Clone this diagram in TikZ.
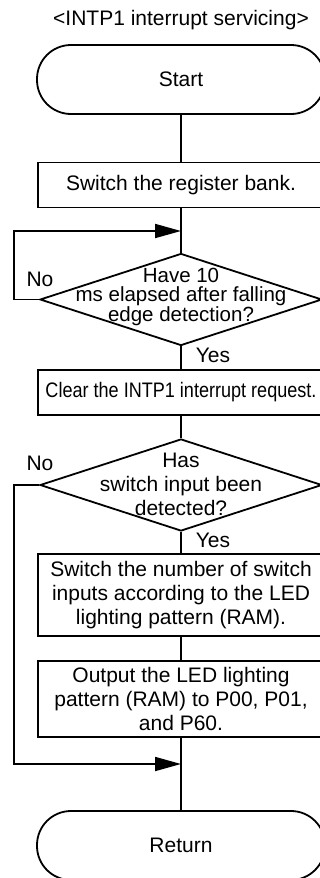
\documentclass[tikz,border=0pt]{standalone}
\usepackage{fontspec}
\setmainfont{Liberation Sans}
\usetikzlibrary{arrows.meta,shapes.geometric}

\begin{document}
\begin{tikzpicture}[x=1pt,y=-1pt,line width=1.8pt,
    font=\fontsize{21}{24}\selectfont,
    terminal/.style={draw,rectangle,rounded corners=34pt,minimum width=288pt,minimum height=69pt,inner sep=0pt},
    procbox/.style={draw,rectangle,minimum width=286pt,inner sep=0pt,align=center},
    decision/.style={draw,diamond,minimum width=282pt,minimum height=92pt,inner sep=0pt},
    loopline/.style={-{Triangle[length=26pt,width=14pt]},line join=miter}]
      % page size, right side cut off as in the original
      \useasboundingbox (0,0) rectangle (320,878);
      \clip (0,0) rectangle (320,878);

      \node (title) at (181,20) {<INTP1 interrupt servicing>};

      % terminals
      \node[terminal] (start) at (181,79.5) {Start};
      \node[terminal] (ret) at (181,845.5) {Return};

      % process boxes
      \node[procbox,minimum height=45pt] (bank) at (181,185) {Switch the register bank.};
      \node[procbox,minimum height=45pt] (clear) at (181,392.5)
        {\scalebox{0.86}[1]{Clear the INTP1 interrupt request.}};
      \node[procbox,minimum height=82pt] (count) at (181,595)
        {Switch the number of switch\\inputs according to the LED\\lighting pattern (RAM).};
      \node[procbox,minimum height=76pt] (output) at (181,699)
        {Output the LED lighting\\pattern (RAM) to P00, P01,\\and P60.};

      % decisions
      \node[decision] (wait) at (181,299.5) {};
      \node[align=center,font=\fontsize{20.5}{19}\selectfont] (waittext) at (181,297)
        {Have 10\\ms elapsed after falling\\edge detection?};
      \node[decision] (detect) at (181,485) {};
      \node[align=center] (detecttext) at (181,484)
        {Has\\switch input been\\detected?};

      \node (no1) at (40,279) {No};
      \node (yes1) at (213,355) {Yes};
      \node (no2) at (40,463) {No};
      \node (yes2) at (213,540) {Yes};

      % joints
      \coordinate (j1) at (181,231);
      \coordinate (j2) at (181,764);

      % main flow
      \draw (start) -- (bank);
      \draw (bank) -- (wait);
      \draw (wait) -- (clear);
      \draw (clear) -- (detect);
      \draw (detect) -- (count);
      \draw (count) -- (output);
      \draw (output) -- (ret);

      % back and skip lines
      \draw[loopline] (wait.west) -- ++(-25,0) |- (j1);
      \draw[loopline] (detect.west) -- ++(-25,0) |- (j2);
\end{tikzpicture}
\end{document}
